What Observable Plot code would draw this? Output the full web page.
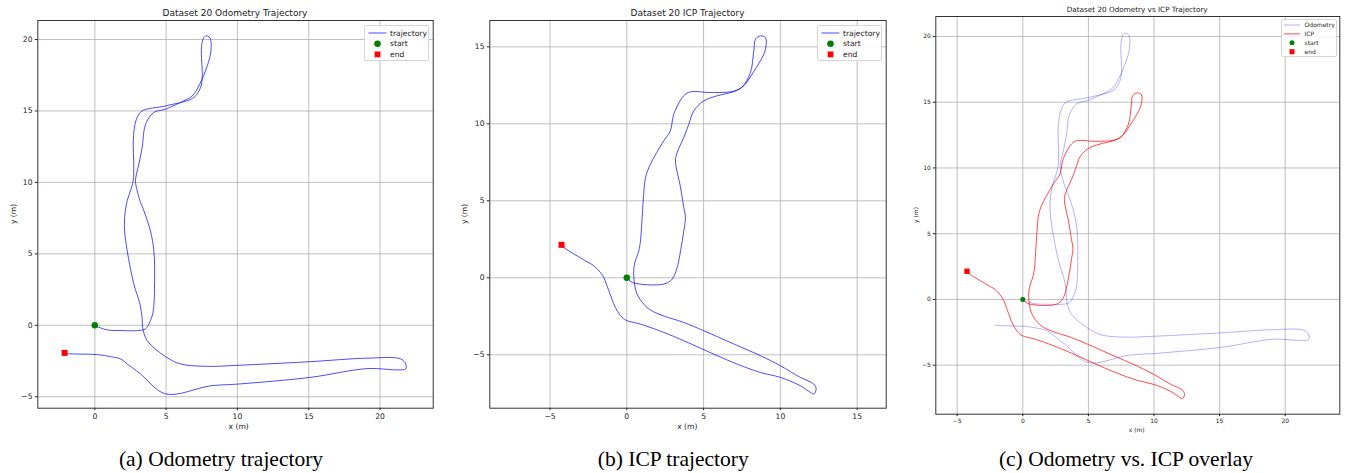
<!DOCTYPE html>
<html><head><meta charset="utf-8">
<script src="https://cdn.jsdelivr.net/npm/d3@7"></script>
<script src="https://cdn.jsdelivr.net/npm/@observablehq/plot@0.6"></script>
<style>
body{margin:0;background:#fff;}
#root{position:relative;width:1347px;height:473px;overflow:hidden;font-family:"DejaVu Sans",sans-serif;color:#222;}
.panel{position:absolute;top:0;}
.title,.alabel{position:absolute;white-space:nowrap;transform:translate(-50%,-50%);color:#222;line-height:1;}
.alabel.rot{transform:translate(-50%,-50%) rotate(-90deg);}
.caption{position:absolute;white-space:nowrap;transform:translate(-50%,-50%);font-family:"Liberation Serif","Times New Roman",serif;font-size:21.5px;color:#000;}
.legend{position:absolute;background:rgba(255,255,255,0.85);border:1px solid #d6d6d6;border-radius:2px;box-sizing:border-box;}
.legend svg{position:absolute;left:0;top:0;overflow:visible;}
</style></head><body><div id="root"></div>
<script>
// Odometry trajectory (m)
const odomX = [0, 0.17, 0.4, 0.87, 2.0, 2.97, 3.55, 3.9, 4.1, 4.19, 4.14, 3.9, 3.44, 3.16, 2.97, 2.85, 3.09, 3.32, 3.56, 4.14, 4.96, 6.01, 6.83, 7.36, 7.76, 8.11, 8.11, 7.88, 7.64, 7.48, 7.53, 7.41, 6.94, 5.0, 3.32, 2.97, 2.78, 2.69, 2.73, 2.69, 2.5, 2.27, 2.09, 2.09, 2.27, 2.73, 3.16, 3.32, 3.35, 3.67, 4.96, 6.0, 7.88, 10.0, 15.0, 19.1, 21.44, 21.8, 21.8, 21.3, 19.1, 15.13, 10.2, 8.1, 4.96, 3.2, 2.27, 1.8, 1.1, 0.17, -1.94, -2.12];
const odomY = [0, -0.1, -0.18, -0.32, -0.37, -0.37, -0.25, 0.33, 1.03, 3.13, 5.22, 6.6, 8.02, 8.72, 9.42, 10.12, 11.29, 12.45, 14.08, 14.9, 15.13, 15.6, 16.06, 16.88, 17.81, 18.98, 20.03, 20.26, 20.14, 19.44, 17.34, 16.64, 15.94, 15.36, 15.01, 14.55, 13.85, 12.68, 11.4, 10.12, 9.42, 8.72, 7.55, 6.6, 5.22, 2.9, 1.5, 0.45, -0.14, -1.07, -2.19, -2.7, -2.87, -2.8, -2.55, -2.3, -2.35, -2.7, -3.05, -3.12, -3.03, -3.64, -4.1, -4.24, -4.8, -3.4, -2.7, -2.35, -2.19, -2.05, -1.98, -1.93];
// ICP trajectory (m)
const icpX = [0, 0.35, 2.41, 2.95, 3.28, 3.5, 3.71, 3.82, 3.71, 3.5, 3.17, 3.28, 3.71, 4.04, 4.36, 5.01, 5.89, 6.97, 7.62, 8.16, 8.7, 9.03, 9.03, 8.7, 8.38, 8.27, 8.05, 7.5, 6.97, 5.45, 4.15, 3.71, 3.06, 2.84, 2.41, 1.54, 1.22, 1.07, 0.89, 0.78, 0.5, 0.46, 0.67, 1.32, 2.08, 3.71, 5.01, 6.97, 8.7, 10.0, 11.3, 12.17, 12.33, 12.17, 11.96, 11.3, 10.0, 8.7, 7.19, 5.89, 3.71, 2.41, 0.89, 0.03, -0.3, -0.74, -1.17, -1.5, -1.71, -2.15, -2.69, -4.1, -4.25];
const icpY = [0, -0.3, -0.41, -0.09, 0.67, 1.75, 3.05, 3.92, 4.56, 5.86, 7.6, 8.14, 9.11, 9.98, 10.84, 11.49, 11.82, 12.1, 12.47, 13.23, 14.09, 14.85, 15.6, 15.71, 15.5, 14.74, 13.33, 12.38, 12.12, 12.03, 12.08, 11.82, 10.63, 9.55, 8.9, 7.38, 6.51, 5.0, 2.4, 1.75, 0.89, 0.02, -1.06, -1.93, -2.36, -2.9, -3.44, -4.3, -5.06, -5.71, -6.47, -6.9, -7.23, -7.55, -7.45, -7.01, -6.47, -6.15, -5.61, -5.06, -4.09, -3.55, -3.01, -2.79, -2.58, -1.93, -0.84, 0.02, 0.34, 0.78, 1.1, 1.97, 2.14];
// axis tick values
const ticksA_x = [0, 5, 10, 15, 20];
const ticksA_y = [-5, 0, 5, 10, 15, 20];
const ticksB_x = [-5, 0, 5, 10, 15];
const ticksB_y = [-5, 0, 5, 10, 15];
const ticksC_x = [-5, 0, 5, 10, 15, 20];
const ticksC_y = [-5, 0, 5, 10, 15, 20];
// titles / captions / labels
const titles = ["Dataset 20 Odometry Trajectory", "Dataset 20 ICP Trajectory", "Dataset 20 Odometry vs ICP Trajectory"];
const captions = ["(a) Odometry trajectory", "(b) ICP trajectory", "(c) Odometry vs. ICP overlay"];
const axisLabels = ["x (m)", "y (m)"];
const legendAB = ["trajectory", "start", "end"];
const legendC = ["Odometry", "ICP", "start", "end"];

const rows = (xs, ys) => xs.map((x, i) => ({x, y: ys[i]}));
const odom = rows(odomX, odomY);
const icp = rows(icpX, icpY);

const root = document.getElementById("root");

function addText(parent, cls, text, x, y, fs) {
  const t = document.createElement("div");
  t.className = cls;
  t.textContent = text;
  t.style.left = x + "px";
  t.style.top = y + "px";
  if (fs) t.style.fontSize = fs + "px";
  parent.appendChild(t);
}

function panel(cfg) {
  const div = document.createElement("div");
  div.className = "panel";
  div.style.left = cfg.left + "px";
  div.style.width = cfg.width + "px";
  div.style.height = "473px";
  const marks = [
    Plot.gridX(cfg.xTicks, {stroke: "#b0b0b0", strokeOpacity: 1, strokeWidth: 0.8}),
    Plot.gridY(cfg.yTicks, {stroke: "#b0b0b0", strokeOpacity: 1, strokeWidth: 0.8}),
    ...cfg.series.map(s => Plot.line(s.data, {x: "x", y: "y", stroke: s.color, strokeOpacity: s.opacity, strokeWidth: 1, curve: "catmull-rom"})),
    Plot.dot([cfg.start], {x: "x", y: "y", r: cfg.r, fill: "green"}),
    Plot.dot([cfg.end], {x: "x", y: "y", r: cfg.sq, symbol: "square", fill: "red"}),
    Plot.frame({stroke: "#333", strokeWidth: 1}),
    Plot.axisX(cfg.xTicks, {tickSize: 2.5, tickPadding: cfg.tp, label: null}),
    Plot.axisY(cfg.yTicks, {tickSize: 2.5, tickPadding: cfg.tp, label: null})
  ];
  const chart = Plot.plot({
    width: cfg.width, height: 440,
    marginLeft: cfg.ml, marginRight: cfg.mr, marginTop: cfg.mt, marginBottom: cfg.mb,
    x: {domain: cfg.xDomain}, y: {domain: cfg.yDomain},
    style: {fontSize: cfg.fs + "px", fontFamily: "DejaVu Sans", color: "#222", background: "transparent", overflow: "visible"},
    marks
  });
  chart.style.position = "absolute";
  chart.style.left = "0px";
  chart.style.top = "0px";
  div.appendChild(chart);

  addText(div, "title", cfg.title, cfg.titleX, cfg.titleY, cfg.titleFs);
  addText(div, "alabel", axisLabels[0], cfg.xl[0], cfg.xl[1], cfg.fs);
  addText(div, "alabel rot", axisLabels[1], cfg.yl[0], cfg.yl[1], cfg.fs);

  const lg = document.createElement("div");
  lg.className = "legend";
  Object.assign(lg.style, {left: cfg.lg.x + "px", top: cfg.lg.y + "px", width: cfg.lg.w + "px", height: cfg.lg.h + "px"});
  let svg = `<svg width="${cfg.lg.w}" height="${cfg.lg.h}">`;
  cfg.lg.items.forEach((it, i) => {
    const y = cfg.lg.y0 + i * cfg.lg.dy;
    if (it.kind === "line") svg += `<line x1="${cfg.lg.sx0}" x2="${cfg.lg.sx1}" y1="${y}" y2="${y}" stroke="${it.color}" stroke-opacity="${it.opacity}" stroke-width="1"/>`;
    if (it.kind === "dot") svg += `<circle cx="${(cfg.lg.sx0 + cfg.lg.sx1) / 2}" cy="${y}" r="${cfg.lg.r}" fill="green"/>`;
    if (it.kind === "sq") svg += `<rect x="${(cfg.lg.sx0 + cfg.lg.sx1) / 2 - cfg.lg.s / 2}" y="${y - cfg.lg.s / 2}" width="${cfg.lg.s}" height="${cfg.lg.s}" fill="red"/>`;
    svg += `<text x="${cfg.lg.tx}" y="${y}" dy="0.34em" font-size="${cfg.lg.fs}" font-family="DejaVu Sans" fill="#222">${it.label}</text>`;
  });
  svg += `</svg>`;
  lg.innerHTML = svg;
  div.appendChild(lg);

  addText(div, "caption", cfg.caption, cfg.capX, 459);
  root.appendChild(div);
}

panel({
  left: 0, width: 450, ml: 37.3, mr: 17.3, mt: 20, mb: 32.3,
  xDomain: [-4.0, 23.73], yDomain: [-5.8, 21.33], xTicks: ticksA_x, yTicks: ticksA_y,
  fs: 7.6, tp: 2.8, xl: [238.7, 427], yl: [14, 213.8],
  series: [{data: odom, color: "blue", opacity: 0.7}],
  start: odom[0], end: odom[odom.length - 1], r: 3.3, sq: 3.4,
  title: titles[0], titleX: 235, titleY: 12.5, titleFs: 9,
  lg: {x: 363.5, y: 24.5, w: 65.5, h: 36, y0: 7, dy: 10.7, sx0: 3.5, sx1: 21.5, tx: 25, fs: 7.6, r: 3.3, s: 5.8,
       items: [{kind: "line", color: "blue", opacity: 0.7, label: legendAB[0]}, {kind: "dot", label: legendAB[1]}, {kind: "sq", label: legendAB[2]}]},
  caption: captions[0], capX: 221
});

panel({
  left: 450, width: 450, ml: 39.3, mr: 14.3, mt: 20, mb: 32.3,
  xDomain: [-8.92, 16.89], yDomain: [-8.47, 16.71], xTicks: ticksB_x, yTicks: ticksB_y,
  fs: 7.6, tp: 2.8, xl: [237.3, 427], yl: [15, 213.8],
  series: [{data: icp, color: "blue", opacity: 0.7}],
  start: icp[0], end: icp[icp.length - 1], r: 3.3, sq: 3.4,
  title: titles[1], titleX: 237.5, titleY: 12.5, titleFs: 9,
  lg: {x: 367.3, y: 24.5, w: 64.5, h: 36, y0: 7, dy: 10.7, sx0: 3.5, sx1: 21.5, tx: 25, fs: 7.6, r: 3.3, s: 5.8,
       items: [{kind: "line", color: "blue", opacity: 0.7, label: legendAB[0]}, {kind: "dot", label: legendAB[1]}, {kind: "sq", label: legendAB[2]}]},
  caption: captions[1], capX: 223.3
});

panel({
  left: 895, width: 452, ml: 40.3, mr: 7.7, mt: 16, mb: 26.3,
  xDomain: [-6.63, 24.16], yDomain: [-8.73, 21.52], xTicks: ticksC_x, yTicks: ticksC_y,
  fs: 6, tp: 2.5, xl: [241.7, 429.5], yl: [20.7, 214.8],
  series: [{data: odom, color: "blue", opacity: 0.3}, {data: icp, color: "red", opacity: 0.7}],
  start: icp[0], end: icp[icp.length - 1], r: 2.5, sq: 3.0,
  title: titles[2], titleX: 242.2, titleY: 10, titleFs: 7.25,
  lg: {x: 385.7, y: 19, w: 56.6, h: 38.3, y0: 5, dy: 8.9, sx0: 2, sx1: 18, tx: 22.6, fs: 6, r: 2.5, s: 5,
       items: [{kind: "line", color: "blue", opacity: 0.3, label: legendC[0]}, {kind: "line", color: "red", opacity: 0.7, label: legendC[1]}, {kind: "dot", label: legendC[2]}, {kind: "sq", label: legendC[3]}]},
  caption: captions[2], capX: 231
});
</script></body></html>
